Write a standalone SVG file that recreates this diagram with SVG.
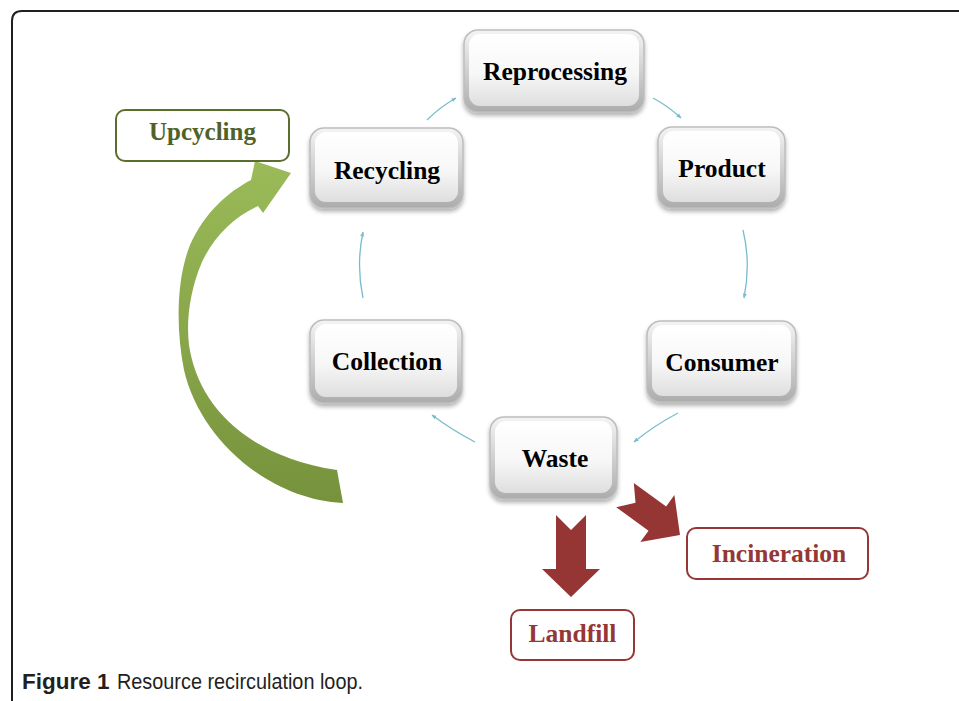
<svg xmlns="http://www.w3.org/2000/svg" width="959" height="701" viewBox="0 0 959 701">
<defs>
<style>
.node-outer{fill:url(#gOuter);stroke:#bdbdbd;stroke-width:1.5;filter:url(#shadow)}
.node-inner{fill:url(#gInner)}
.node-text{font-family:"Liberation Serif","Times New Roman",serif;font-weight:bold;font-size:25.5px;fill:#000;text-anchor:middle}
.conn{fill:none;stroke:#79bccd;stroke-width:1.3;marker-end:url(#ah)}
.green-lbl{fill:#fff;stroke:#5b6e2f;stroke-width:2}
.red-lbl{fill:#fff;stroke:#953735;stroke-width:2}
.green-text{font-family:"Liberation Serif","Times New Roman",serif;font-weight:bold;font-size:25px;fill:#4f6228;text-anchor:middle}
.red-text{font-family:"Liberation Serif","Times New Roman",serif;font-weight:bold;font-size:25.5px;fill:#953735;text-anchor:middle}
.red-arrow{fill:#963634}
.caption{font-family:"Liberation Sans",Arial,sans-serif;font-size:22.5px;fill:#231f20}
</style>
<linearGradient id="gOuter" x1="0" y1="0" x2="0" y2="1">
<stop offset="0" stop-color="#f4f4f4"/>
<stop offset="1" stop-color="#acacac"/>
</linearGradient>
<linearGradient id="gInner" x1="0" y1="0" x2="0" y2="1">
<stop offset="0" stop-color="#ffffff"/>
<stop offset="0.55" stop-color="#f7f7f7"/>
<stop offset="1" stop-color="#dedede"/>
</linearGradient>
<linearGradient id="gGreen" x1="0" y1="0" x2="0" y2="1">
<stop offset="0" stop-color="#9bbb59"/>
<stop offset="1" stop-color="#76923c"/>
</linearGradient>
<filter id="shadow" x="-10%" y="-10%" width="120%" height="130%">
<feDropShadow dx="0" dy="3" stdDeviation="2" flood-color="#000" flood-opacity="0.3"/>
</filter>
<marker id="ah" viewBox="0 0 10 10" refX="9" refY="5" markerWidth="5" markerHeight="5" orient="auto" markerUnits="userSpaceOnUse">
<path d="M0,1 L10,5 L0,9 Z" fill="#79bccd"/>
</marker>
<path id="bigArrow" d="M0,0 L-29,-28 L-15,-28 L-15,-82 L0,-67 L15,-82 L15,-28 L29,-28 Z"/>
</defs>

<rect x="0" y="0" width="959" height="701" fill="#fff"/>
<path d="M12,701 L12,21 Q12,11 22,11 L959,11" fill="none" stroke="#231f20" stroke-width="2"/>

<g id="connectors">
<path class="conn" d="M427,120 Q440,107 456,98"/>
<path class="conn" d="M653,98 Q668,106 681,118"/>
<path class="conn" d="M743,230 Q751,263 744,298"/>
<path class="conn" d="M678,413 Q655,425 634,442"/>
<path class="conn" d="M475,442 Q452,430 432,415"/>
<path class="conn" d="M363,298 Q356,265 363,232"/>
<path id="upcycle-arrow" fill="url(#gGreen)" d="M343,503 C270,500 200,440 184,370 C176,330 176,280 190,245 C205,212 228,192 251,180 L255,161 L291,173 L263,213 L258,206 C235,216 214,236 202,262 C190,290 186,320 189,345 C197,400 240,455 337,470 Z"/>
<use href="#bigArrow" class="red-arrow" transform="translate(571,597)"/>
<g transform="translate(680,535) rotate(-54)">
<path class="red-arrow" d="M0,0 L-29,-28 L-15,-28 L-15,-68 L0,-55 L15,-68 L15,-28 L29,-28 Z"/>
</g>
</g>

<g id="node-reprocessing">
<rect class="node-outer" x="464" y="30" width="180" height="82" rx="14"/>
<rect class="node-inner" x="469" y="34" width="170" height="72" rx="11"/>
<text class="node-text" x="555" y="80">Reprocessing</text>
</g>
<g id="node-recycling">
<rect class="node-outer" x="310" y="128" width="153" height="80" rx="14"/>
<rect class="node-inner" x="315" y="132" width="143" height="70" rx="11"/>
<text class="node-text" x="387" y="179">Recycling</text>
</g>
<g id="node-product">
<rect class="node-outer" x="658" y="127" width="127" height="81" rx="14"/>
<rect class="node-inner" x="663" y="131" width="117" height="71" rx="11"/>
<text class="node-text" x="722" y="177">Product</text>
</g>
<g id="node-collection">
<rect class="node-outer" x="310" y="320" width="152" height="83" rx="14"/>
<rect class="node-inner" x="315" y="324" width="142" height="73" rx="11"/>
<text class="node-text" x="387" y="370">Collection</text>
</g>
<g id="node-consumer">
<rect class="node-outer" x="647" y="321" width="149" height="81" rx="14"/>
<rect class="node-inner" x="652" y="325" width="139" height="71" rx="11"/>
<text class="node-text" x="722" y="371">Consumer</text>
</g>
<g id="node-waste">
<rect class="node-outer" x="490" y="417" width="127" height="82" rx="14"/>
<rect class="node-inner" x="495" y="421" width="117" height="72" rx="11"/>
<text class="node-text" x="555" y="467">Waste</text>
</g>
<g id="node-upcycling">
<rect class="green-lbl" x="116" y="110" width="173" height="51" rx="9"/>
<text class="green-text" x="202.5" y="140">Upcycling</text>
</g>
<g id="node-incineration">
<rect class="red-lbl" x="687" y="528" width="181" height="51" rx="9"/>
<text class="red-text" x="779" y="562">Incineration</text>
</g>
<g id="node-landfill">
<rect class="red-lbl" x="511" y="610" width="123" height="50" rx="9"/>
<text class="red-text" x="572.5" y="642">Landfill</text>
</g>

<g id="caption">
<text class="caption" x="22" y="689" font-weight="bold" font-size="24">Figure 1</text>
<text class="caption" x="117" y="689" textLength="246" lengthAdjust="spacingAndGlyphs">Resource recirculation loop.</text>
</g>
</svg>
